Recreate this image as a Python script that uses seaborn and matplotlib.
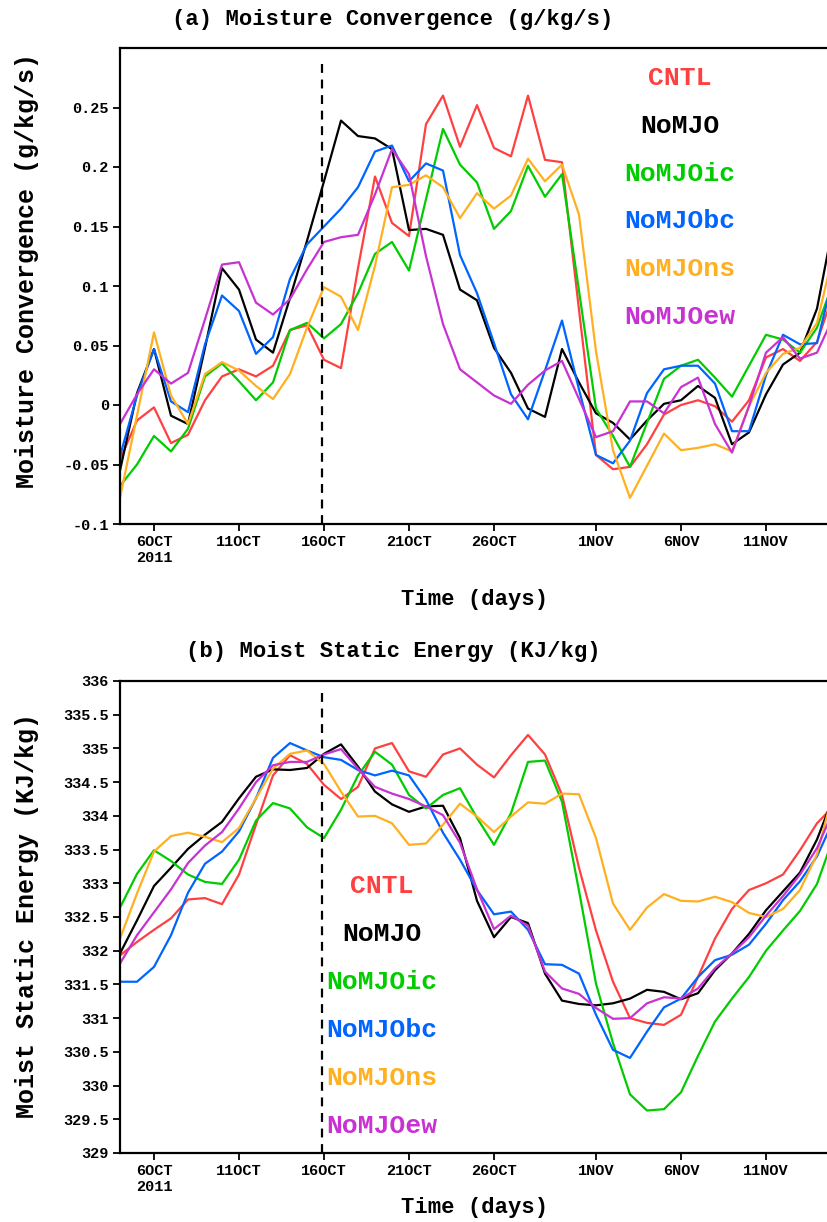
import matplotlib
matplotlib.use("Agg")
import matplotlib.pyplot as plt
import seaborn as sns
import pandas as pd

# daily data, 4 Oct 2011 .. 15 Nov 2011
days = pd.date_range("2011-10-04", periods=43, freq="D")

runs = ["CNTL", "NoMJO", "NoMJOic", "NoMJObc", "NoMJOns", "NoMJOew"]
colors = ["#ff4040", "#000000", "#00cc00", "#0064ff", "#ffb020", "#c832d2"]

# (a) moisture convergence (g/kg/s)
mc_cntl = [-0.046, -0.013, -0.002, -0.032, -0.025, 0.004, 0.024, 0.030, 0.024, 0.033,
           0.063, 0.067, 0.038, 0.031, 0.115, 0.192, 0.153, 0.142, 0.236, 0.260,
           0.217, 0.252, 0.216, 0.209, 0.260, 0.206, 0.204, 0.080, -0.042, -0.054,
           -0.052, -0.033, -0.008, 0.000, 0.004, -0.001, -0.014, 0.004, 0.040, 0.047,
           0.037, 0.053, 0.095]
mc_nomjo = [-0.055, 0.010, 0.047, -0.009, -0.016, 0.048, 0.115, 0.097, 0.055, 0.044,
            0.090, 0.138, 0.188, 0.239, 0.226, 0.224, 0.215, 0.147, 0.148, 0.143,
            0.097, 0.088, 0.048, 0.027, -0.003, -0.010, 0.047, 0.019, -0.007, -0.015,
            -0.029, -0.013, 0.001, 0.004, 0.016, 0.006, -0.033, -0.023, 0.009, 0.034,
            0.044, 0.081, 0.155]
mc_ic = [-0.068, -0.050, -0.026, -0.039, -0.020, 0.024, 0.035, 0.020, 0.004, 0.019,
         0.063, 0.069, 0.056, 0.068, 0.094, 0.127, 0.137, 0.113, 0.173, 0.232,
         0.202, 0.187, 0.148, 0.163, 0.201, 0.175, 0.194, 0.096, -0.003, -0.026,
         -0.052, -0.015, 0.022, 0.033, 0.038, 0.023, 0.007, 0.033, 0.059, 0.055,
         0.044, 0.065, 0.105]
mc_bc = [-0.043, 0.008, 0.047, 0.003, -0.006, 0.051, 0.092, 0.079, 0.043, 0.057,
         0.106, 0.135, 0.150, 0.165, 0.183, 0.213, 0.218, 0.188, 0.203, 0.197,
         0.126, 0.094, 0.052, 0.009, -0.012, 0.029, 0.071, 0.013, -0.042, -0.049,
         -0.030, 0.010, 0.030, 0.033, 0.033, 0.018, -0.022, -0.022, 0.025, 0.059,
         0.051, 0.052, 0.110]
mc_ns = [-0.078, -0.009, 0.061, 0.008, -0.016, 0.026, 0.036, 0.029, 0.016, 0.005,
         0.026, 0.065, 0.099, 0.091, 0.063, 0.117, 0.183, 0.185, 0.193, 0.183,
         0.157, 0.178, 0.165, 0.176, 0.207, 0.188, 0.202, 0.160, 0.045, -0.038,
         -0.078, -0.051, -0.024, -0.038, -0.036, -0.033, -0.039, -0.001, 0.027, 0.043,
         0.048, 0.069, 0.130]
mc_ew = [-0.016, 0.009, 0.030, 0.018, 0.027, 0.072, 0.118, 0.120, 0.086, 0.076,
         0.089, 0.114, 0.137, 0.141, 0.143, 0.177, 0.215, 0.194, 0.125, 0.068,
         0.030, 0.019, 0.008, 0.001, 0.017, 0.029, 0.037, 0.005, -0.027, -0.022,
         0.003, 0.003, -0.007, 0.015, 0.023, -0.016, -0.040, -0.001, 0.044, 0.057,
         0.039, 0.044, 0.075]

# (b) moist static energy (KJ/kg)
mse_cntl = [331.93, 332.13, 332.31, 332.48, 332.76, 332.78, 332.69, 333.13, 333.87, 334.60,
            334.90, 334.77, 334.46, 334.25, 334.43, 335.00, 335.08, 334.66, 334.58, 334.91,
            335.00, 334.76, 334.57, 334.90, 335.20, 334.91, 334.31, 333.23, 332.30, 331.54,
            331.00, 330.93, 330.90, 331.05, 331.61, 332.18, 332.62, 332.90, 333.00, 333.13,
            333.49, 333.89, 334.15]
mse_nomjo = [331.96, 332.45, 332.96, 333.23, 333.51, 333.72, 333.91, 334.26, 334.58, 334.69,
             334.68, 334.71, 334.92, 335.06, 334.73, 334.36, 334.17, 334.06, 334.14, 334.15,
             333.67, 332.74, 332.20, 332.50, 332.41, 331.66, 331.26, 331.21, 331.19, 331.22,
             331.29, 331.42, 331.39, 331.28, 331.37, 331.71, 331.96, 332.25, 332.60, 332.88,
             333.16, 333.65, 334.30]
mse_ic = [332.64, 333.14, 333.49, 333.33, 333.13, 333.02, 332.99, 333.35, 333.93, 334.19,
          334.11, 333.83, 333.67, 334.09, 334.60, 334.95, 334.76, 334.31, 334.11, 334.31,
          334.41, 333.97, 333.57, 334.04, 334.80, 334.82, 334.21, 332.89, 331.51, 330.63,
          329.87, 329.63, 329.65, 329.90, 330.44, 330.95, 331.29, 331.61, 332.00, 332.30,
          332.59, 332.99, 333.70]
mse_bc = [331.54, 331.54, 331.76, 332.23, 332.86, 333.29, 333.47, 333.77, 334.26, 334.86,
          335.08, 334.97, 334.87, 334.83, 334.68, 334.60, 334.67, 334.60, 334.24, 333.75,
          333.35, 332.90, 332.54, 332.58, 332.31, 331.80, 331.79, 331.66, 331.05, 330.53,
          330.41, 330.80, 331.16, 331.29, 331.61, 331.86, 331.94, 332.09, 332.40, 332.75,
          333.03, 333.40, 333.95]
mse_ns = [332.18, 332.85, 333.47, 333.70, 333.75, 333.69, 333.61, 333.82, 334.26, 334.70,
          334.92, 334.97, 334.77, 334.36, 333.99, 334.00, 333.89, 333.57, 333.59, 333.87,
          334.18, 333.99, 333.76, 333.99, 334.20, 334.18, 334.33, 334.32, 333.67, 332.70,
          332.31, 332.64, 332.84, 332.74, 332.73, 332.80, 332.72, 332.56, 332.50, 332.62,
          332.90, 333.43, 334.40]
mse_ew = [331.81, 332.23, 332.57, 332.91, 333.30, 333.56, 333.76, 334.11, 334.50, 334.75,
          334.80, 334.80, 334.91, 334.99, 334.70, 334.43, 334.33, 334.25, 334.14, 334.01,
          333.60, 332.91, 332.32, 332.52, 332.37, 331.69, 331.44, 331.36, 331.15, 330.99,
          331.00, 331.22, 331.31, 331.29, 331.44, 331.74, 331.96, 332.20, 332.52, 332.81,
          333.13, 333.52, 334.10]

tick_dates = pd.to_datetime(["2011-10-06", "2011-10-11", "2011-10-16", "2011-10-21",
                             "2011-10-26", "2011-11-01", "2011-11-06", "2011-11-11"])
tick_labels = ["6OCT\n2011", "11OCT", "16OCT", "21OCT", "26OCT", "1NOV", "6NOV", "11NOV"]
mc_ticks = [-0.1, -0.05, 0, 0.05, 0.1, 0.15, 0.2, 0.25]
mc_tick_labels = ["-0.1", "-0.05", "0", "0.05", "0.1", "0.15", "0.2", "0.25"]
mse_ticks = [329 + 0.5 * i for i in range(15)]
mse_tick_labels = ["329", "329.5", "330", "330.5", "331", "331.5", "332", "332.5",
                   "333", "333.5", "334", "334.5", "335", "335.5", "336"]
event_day = pd.Timestamp("2011-10-16")


def long_table(series):
    frames = []
    for name, vals in zip(runs, series):
        frames.append(pd.DataFrame({"day": days, "value": vals, "run": name}))
    return pd.concat(frames, ignore_index=True)


mc_df = long_table([mc_cntl, mc_nomjo, mc_ic, mc_bc, mc_ns, mc_ew])
mse_df = long_table([mse_cntl, mse_nomjo, mse_ic, mse_bc, mse_ns, mse_ew])

sns.set_style("ticks")
plt.rcParams["font.family"] = ["Liberation Mono", "DejaVu Sans Mono"]
plt.rcParams["font.weight"] = "bold"
plt.rcParams["text.color"] = "black"
plt.rcParams["xtick.color"] = "black"
plt.rcParams["ytick.color"] = "black"
plt.rcParams["axes.edgecolor"] = "black"

W, H = 827, 1222
fig = plt.figure(figsize=(W / 100, H / 100), dpi=100, facecolor="white")

# axes run past the right edge, like the cropped original
x0 = pd.Timestamp("2011-10-04")
x1 = pd.Timestamp("2011-11-16")
ax_w = 43 * 17 / W
ax_a = fig.add_axes([120 / W, 1 - 524 / H, ax_w, (524 - 48) / H])
ax_b = fig.add_axes([120 / W, 1 - 1153 / H, ax_w, (1153 - 681) / H])


def draw_panel(ax, df, ylim, yticks, ylabels):
    sns.lineplot(data=df, x="day", y="value", hue="run", palette=colors,
                 hue_order=runs, legend=False, linewidth=1.6, ax=ax)
    ax.axvline(event_day - pd.Timedelta(hours=3), ymin=0, ymax=0.98, color="black",
               linestyle="--", linewidth=1.6, dashes=(4, 3))
    ax.set_xlim(x0, x1)
    ax.set_ylim(*ylim)
    ax.set_xticks(tick_dates)
    ax.set_xticklabels(tick_labels, fontsize=11, fontweight="bold", color="black")
    ax.set_yticks(yticks)
    ax.set_yticklabels(ylabels, fontsize=11, fontweight="bold", color="black")
    ax.set_xlabel("")
    ax.set_ylabel("")
    ax.tick_params(direction="out", length=5, width=1.3, pad=3, colors="black")
    for s in ax.spines.values():
        s.set_linewidth(1.6)
        s.set_color("black")


draw_panel(ax_a, mc_df, (-0.1, 0.3), mc_ticks, mc_tick_labels)
draw_panel(ax_b, mse_df, (329, 336), mse_ticks, mse_tick_labels)

# run names in their colours
for i, (name, col) in enumerate(zip(runs, colors)):
    fig.text(680 / W, 1 - (78 + 47.8 * i) / H, name, color=col, fontsize=19,
             fontweight="bold", ha="center", va="center")
    fig.text(382 / W, 1 - (886 + 48 * i) / H, name, color=col, fontsize=19,
             fontweight="bold", ha="center", va="center")

# titles and axis names
fig.text(393 / W, 1 - 20 / H, "(a) Moisture Convergence (g/kg/s)", fontsize=16,
         fontweight="bold", ha="center", va="center")
fig.text(393 / W, 1 - 651 / H, "(b) Moist Static Energy (KJ/kg)", fontsize=16,
         fontweight="bold", ha="center", va="center")
fig.text(475 / W, 1 - 600 / H, "Time (days)", fontsize=16, fontweight="bold",
         ha="center", va="center")
fig.text(475 / W, 1 - 1208 / H, "Time (days)", fontsize=16, fontweight="bold",
         ha="center", va="center")
fig.text(27 / W, 1 - 271 / H, "Moisture Convergence (g/kg/s)", fontsize=18,
         fontweight="bold", ha="center", va="center", rotation=90)
fig.text(27 / W, 1 - 915 / H, "Moist Static Energy (KJ/kg)", fontsize=18,
         fontweight="bold", ha="center", va="center", rotation=90)

fig.savefig("out.png", dpi=100, facecolor="white")
